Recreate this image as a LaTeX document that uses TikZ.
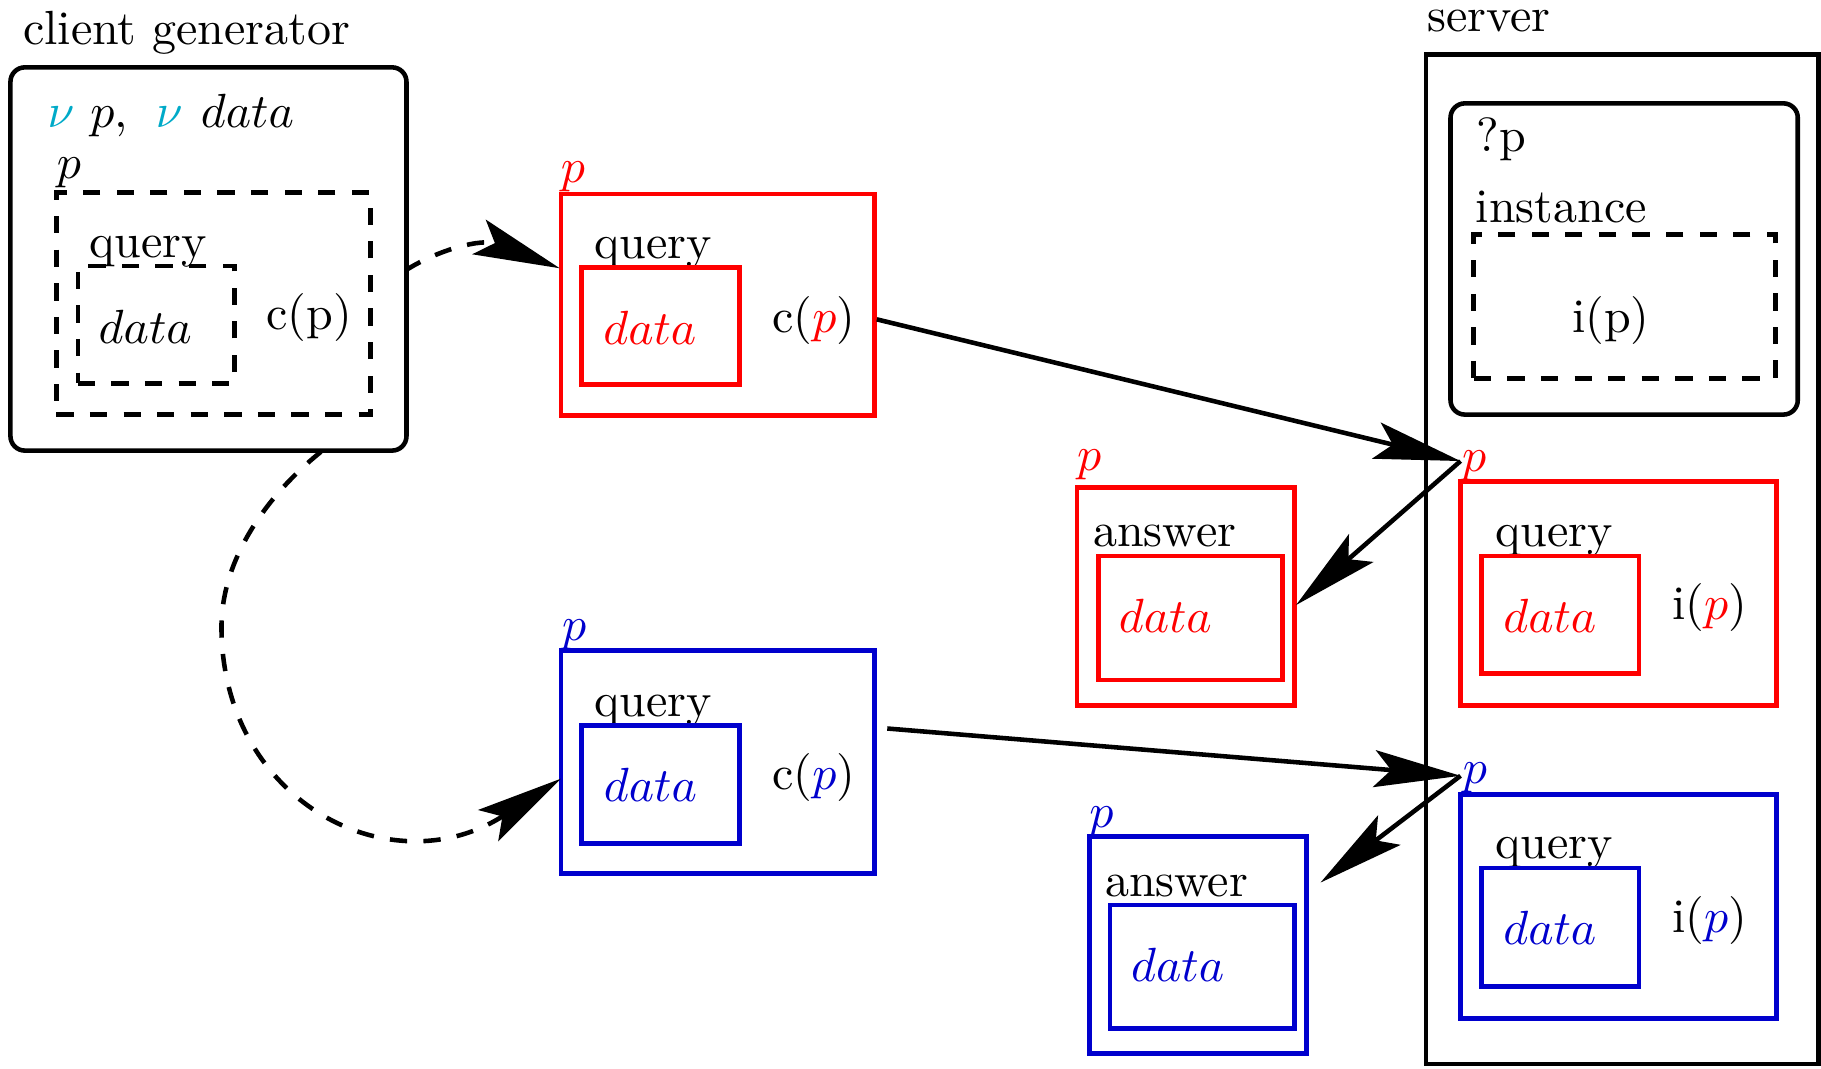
\documentclass[tikz,border=0pt]{standalone}
\usetikzlibrary{arrows.meta,fit}
\definecolor{qred}{RGB}{255,0,0}
\definecolor{qblue}{RGB}{0,0,205}
\definecolor{qcyan}{RGB}{0,170,200}
\begin{document}
\begin{tikzpicture}[x=0.242pt,y=-0.242pt,
  lbl/.style={inner sep=0pt, outer sep=0pt, anchor=base west},
  frame/.style={draw, line width=0.95pt, inner sep=0pt, outer sep=0pt},
  rframe/.style={frame, rounded corners=3pt},
  dframe/.style={frame, dash pattern=on 3.6pt off 3.4pt},
  redframe/.style={frame, draw=qred, line width=1pt},
  blueframe/.style={frame, draw=qblue, line width=1pt},
  msg/.style={-{Stealth[length=18pt,width=7.7pt,inset=3.5pt]}, line width=0.95pt},
  dmsg/.style={msg, dash pattern=on 3.6pt off 3.4pt},
]
\useasboundingbox (0,0) rectangle (1568,920);

% ---------------- client generator ----------------
\node[lbl] (cgtitle) at (20,38.6) {client generator};
\node[rframe, fit={(9,58)(350,388)}] (cg) {};
\node[lbl] (cgnu) at (41,110) {{\color{qcyan}$\nu$} $p$,\hspace{2.5pt} {\color{qcyan}$\nu$}\hspace{0.5pt} $data$};
\node[lbl] (cgp) at (49,154) {$p$};
\node[dframe, fit={(48.5,166)(319,357)}] (cgout) {};
\node[lbl] (cgq) at (77,221.4) {query};
\node[dframe, fit={(67,229)(202,330)}] (cgin) {};
\node[lbl] (cgdata) at (85,295.7) {$data$};
\node[lbl] (cgc) at (229.5,284) {c(p)};

% ---------------- red query ----------------
\node[lbl, text=qred] (rqp) at (483,157) {$p$};
\node[redframe, fit={(483,167)(753,358)}] (rq) {};
\node[lbl] (rqq) at (511.8,222.8) {query};
\node[redframe, fit={(501,230.5)(637,331)}] (rqi) {};
\node[lbl, text=qred] (rqdata) at (519.5,297) {$data$};
\node[lbl] (rqc) at (665,286.5) {c(\textcolor{qred}{$p$})};

% ---------------- blue query ----------------
\node[lbl, text=qblue] (bqp) at (484,551.8) {$p$};
\node[blueframe, fit={(483,560)(753,752)}] (bq) {};
\node[lbl] (bqq) at (511.5,616.6) {query};
\node[blueframe, fit={(501,624.4)(637,726)}] (bqi) {};
\node[lbl, text=qblue] (bqdata) at (520,690) {$data$};
\node[lbl] (bqc) at (665,680) {c(\textcolor{qblue}{$p$})};

% ---------------- server ----------------
\node[lbl] (srvtitle) at (1229,27.2) {server};
\node[frame, fit={(1228,47)(1566,916)}] (srv) {};
\node[rframe, fit={(1249,89)(1548,357)}] (inst) {};
\node[lbl] (instp) at (1271.6,130.4) {?p};
\node[lbl] (instl) at (1270.7,192) {instance};
\node[dframe, fit={(1269,202)(1528.6,326)}] (insti) {};
\node[lbl] (insttxt) at (1353.7,286.5) {i(p)};

% server red query
\node[lbl, text=qred] (sq1p) at (1258.9,406) {$p$};
\node[redframe, fit={(1257.6,414.7)(1530,607.6)}] (sq1) {};
\node[lbl] (sq1q) at (1287.3,470.8) {query};
\node[redframe, fit={(1275.8,478.7)(1411.3,579.7)}] (sq1i) {};
\node[lbl, text=qred] (sq1data) at (1294.5,544.6) {$data$};
\node[lbl] (sq1c) at (1439.7,533.8) {i(\textcolor{qred}{$p$})};

% server blue query
\node[lbl, text=qblue] (sq2p) at (1259.7,675) {$p$};
\node[blueframe, fit={(1257.6,684.4)(1530,877.3)}] (sq2) {};
\node[lbl] (sq2q) at (1287.3,739.5) {query};
\node[blueframe, fit={(1275.8,747.4)(1411.3,849.4)}] (sq2i) {};
\node[lbl, text=qblue] (sq2data) at (1294.5,813.4) {$data$};
\node[lbl] (sq2c) at (1439.7,803.1) {i(\textcolor{qblue}{$p$})};

% ---------------- red answer ----------------
\node[lbl, text=qred] (rap) at (927.4,405) {$p$};
\node[redframe, fit={(927.4,419.8)(1114.5,607.6)}] (ra) {};
\node[lbl] (raa) at (941.4,470.8) {answer};
\node[redframe, fit={(945.6,478.7)(1104,585.5)}] (rai) {};
\node[lbl, text=qred] (radata) at (963.4,544.6) {$data$};

% ---------------- blue answer ----------------
\node[lbl, text=qblue] (bap) at (938,712.3) {$p$};
\node[blueframe, fit={(938,720.2)(1125,907.2)}] (ba) {};
\node[lbl] (baa) at (951.5,771.8) {answer};
\node[blueframe, fit={(955.7,779.3)(1114.5,885.8)}] (bai) {};
\node[lbl, text=qblue] (badata) at (974,845) {$data$};

% ---------------- connector end points ----------------
\coordinate (c1s) at (349,233);
\coordinate (c1e) at (482,231);
\coordinate (c2s) at (755,275);
\coordinate (hubR) at (1257.6,397);
\coordinate (c3e) at (1116,521);
\coordinate (c4s) at (276.4,389);
\coordinate (c4e) at (483,670.5);
\coordinate (c5s) at (764,627.3);
\coordinate (hubB) at (1257.6,668);
\coordinate (c6e) at (1137,760);

% ---------------- connectors ----------------
\draw[dmsg] (c1s) .. controls (377,215) and (415,205) .. (c1e);
\draw[msg] (c2s) -- (hubR);
\draw[msg] (hubR) -- (c3e);
\draw[dmsg] (c4s) .. controls (231.6,425) and (190.7,480) .. (190.7,540)
              .. controls (191,690) and (336.5,765) .. (c4e);
\draw[msg] (c5s) -- (hubB);
\draw[msg] (hubB) -- (c6e);
\end{tikzpicture}
\end{document}
